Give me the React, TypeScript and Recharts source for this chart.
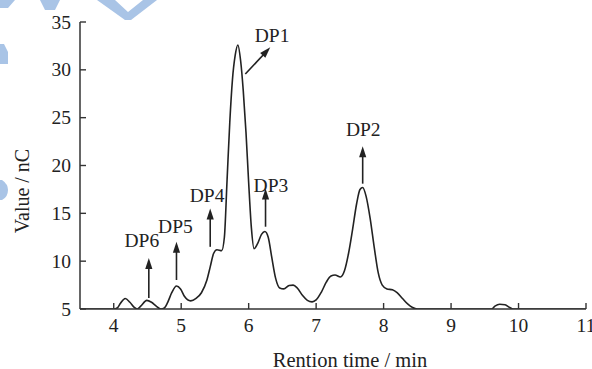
import React from 'react';
import { LineChart, Line, XAxis, YAxis, ReferenceLine, ReferenceDot } from 'recharts';

const times = [
  3.5, 4.0, 4.05, 4.1, 4.17, 4.24, 4.3, 4.35, 4.4, 4.49, 4.56, 4.63, 4.7, 4.75, 4.8, 4.86, 4.93, 4.99,
  5.05, 5.14, 5.22, 5.3, 5.38, 5.43, 5.48, 5.53, 5.6, 5.64, 5.68, 5.72, 5.76, 5.8, 5.84, 5.88, 5.92,
  5.96, 6.0, 6.04, 6.08, 6.13, 6.19, 6.24, 6.29, 6.34, 6.4, 6.46, 6.52, 6.6, 6.66, 6.72, 6.8, 6.87,
  6.94, 7.0, 7.08, 7.15, 7.22, 7.28, 7.36, 7.42, 7.48, 7.54, 7.6, 7.65, 7.69, 7.74, 7.8, 7.86, 7.92,
  7.98, 8.05, 8.13, 8.2, 8.28, 8.36, 8.43, 8.5, 9.6, 9.65, 9.72, 9.8, 9.87, 9.92, 11.0,
];
const values = [
  5, 5, 5.1, 5.6, 6.1, 5.7, 5.2, 5.0, 5.3, 5.9, 5.7, 5.3, 5.0, 5.1, 5.7, 6.7, 7.4, 7.1,
  6.3, 5.85, 6.1, 6.7, 8.0, 9.4, 10.8, 11.2, 11.1, 12.5, 18.5, 24.5, 29.0, 31.5, 32.6, 31.0, 27.8,
  23.5, 18.2, 13.5, 11.3, 11.8, 12.8, 13.1, 12.5, 10.5, 8.2, 7.2, 7.1, 7.45, 7.5, 7.2, 6.4, 5.9,
  5.75, 5.95, 6.8, 7.8, 8.45, 8.55, 8.35, 9.0, 10.8, 13.3, 16.0, 17.5, 17.7, 16.8, 14.5, 11.5, 8.8,
  7.5, 7.1, 7.0, 6.7, 6.1, 5.5, 5.15, 5.0, 5.0, 5.3, 5.5, 5.45, 5.15, 5.0, 5.0,
];
const xTicks = [4, 5, 6, 7, 8, 9, 10, 11];
const yTicks = [5, 10, 15, 20, 25, 30, 35];

// annotations: label text, label position, arrow start, arrow tip
const peakLabels = ['DP6', 'DP5', 'DP4', 'DP1', 'DP3', 'DP2'];
const labelX = [4.417, 4.914, 5.384, 6.347, 6.33, 7.698];
const labelY = [12.21, 13.68, 16.92, 33.64, 17.96, 23.82];
const arrowFromX = [4.52, 4.93, 5.43, 5.95, 6.25, 7.69];
const arrowFromY = [6.15, 8.03, 11.5, 29.56, 13.6, 18.1];
const arrowToX = [4.52, 4.93, 5.43, 6.32, 6.25, 7.69];
const arrowToY = [10.33, 12.03, 15.5, 32.35, 17.6, 22.0];

const data = times.map((t, i) => ({ t, v: values[i] }));

const FONT = '"Liberation Serif", "Times New Roman", serif';
const INK = '#222';

const XTick = (props: any) => {
  const { x, y, payload } = props;
  return (
    <g>
      <line x1={x} y1={y} x2={x} y2={y - 6} stroke="#333" strokeWidth={1.4} />
      <text x={x} y={y + 23} textAnchor="middle" fontFamily={FONT} fontSize={19.5} fill={INK}>
        {payload.value}
      </text>
    </g>
  );
};

const YTick = (props: any) => {
  const { x, y, payload } = props;
  return (
    <g>
      <line x1={x} y1={y} x2={x + 6} y2={y} stroke="#333" strokeWidth={1.4} />
      <text x={x - 9} y={y + 6.5} textAnchor="end" fontFamily={FONT} fontSize={19.5} fill={INK}>
        {payload.value}
      </text>
    </g>
  );
};

const Arrow = (props: any) => {
  const { x1, y1, x2, y2 } = props;
  if ([x1, y1, x2, y2].some((v) => typeof v !== 'number' || isNaN(v))) return <g />;
  const dx = x2 - x1;
  const dy = y2 - y1;
  const len = Math.sqrt(dx * dx + dy * dy) || 1;
  const ux = dx / len;
  const uy = dy / len;
  const px = -uy;
  const py = ux;
  const headL = 11;
  const headW = 3.6;
  const bx = x2 - ux * headL;
  const by = y2 - uy * headL;
  return (
    <g>
      <line x1={x1} y1={y1} x2={x2 - ux * 8} y2={y2 - uy * 8} stroke={INK} strokeWidth={1.6} />
      <polygon
        points={`${x2},${y2} ${bx + px * headW},${by + py * headW} ${bx - px * headW},${by - py * headW}`}
        fill={INK}
      />
    </g>
  );
};

const makeLabel = (text: string) => (props: any) => {
  const { cx, cy } = props;
  return (
    <text x={cx} y={cy + 6.8} textAnchor="middle" fontFamily={FONT} fontSize={19.5} fill={INK}>
      {text}
    </text>
  );
};

const Watermark = () => (
  <svg width={592} height={369} style={{ position: 'absolute', left: 0, top: 0 }}>
    <g fill="#a9c4e6">
      <polygon points="0,0 15,0 8,8 0,8" />
      <polygon points="40,0 60,0 55,10 45,10" />
      <polygon points="97,0 115,0 128,12 143,0 157,0 131,20 125,20" />
      <polygon points="0,44 4,44 8,52 8,64 0,64" />
      <path d="M0,180 L2,180 Q8,184 8,190 Q8,197 2,200 L0,200 Z" />
    </g>
  </svg>
);

export default function App() {
  return (
    <div style={{ position: 'absolute', left: 0, top: 0, width: 592, height: 369, background: '#fff' }}>
      <Watermark />
      <div style={{ position: 'absolute', left: 0, top: 0 }}>
        <LineChart width={592} height={369} data={data} margin={{ top: 22, right: 6, left: 0, bottom: 0 }}>
          <XAxis
            dataKey="t"
            type="number"
            domain={[3.5, 11]}
            ticks={xTicks}
            allowDataOverflow
            height={60}
            tickSize={0}
            tickMargin={0}
            tickLine={false}
            axisLine={{ stroke: '#333', strokeWidth: 1.5 }}
            tick={<XTick />}
            interval={0}
            label={{
              content: (p: any) => {
                const vb = p.viewBox || {};
                return (
                  <text
                    x={(vb.x ?? 80) + (vb.width ?? 506) / 2 + 17}
                    y={(vb.y ?? 309) + 57.5}
                    textAnchor="middle"
                    fontFamily={FONT}
                    fontSize={20.5}
                    fill={INK}
                  >
                    Rention time / min
                  </text>
                );
              },
            }}
          />
          <YAxis
            type="number"
            domain={[5, 35]}
            ticks={yTicks}
            allowDataOverflow
            width={80}
            tickSize={0}
            tickMargin={0}
            tickLine={false}
            axisLine={{ stroke: '#333', strokeWidth: 1.5 }}
            tick={<YTick />}
            interval={0}
            label={{
              content: (p: any) => {
                const vb = p.viewBox || {};
                const cx = (vb.x ?? 0) + 22.5;
                const cy = (vb.y ?? 22) + (vb.height ?? 287) / 2 + 25.5;
                return (
                  <text
                    x={cx}
                    y={cy}
                    dy="0.33em"
                    transform={`rotate(-90, ${cx}, ${cy})`}
                    textAnchor="middle"
                    fontFamily={FONT}
                    fontSize={20}
                    fill={INK}
                  >
                    Value / nC
                  </text>
                );
              },
            }}
          />
          <Line
            type="monotone"
            dataKey="v"
            stroke={INK}
            strokeWidth={1.6}
            dot={false}
            activeDot={false}
            isAnimationActive={false}
          />
          {peakLabels.map((name, i) => (
            <ReferenceLine
              key={`a-${name}`}
              segment={[
                { x: arrowFromX[i], y: arrowFromY[i] },
                { x: arrowToX[i], y: arrowToY[i] },
              ]}
              ifOverflow="visible"
              shape={Arrow}
            />
          ))}
          {peakLabels.map((name, i) => (
            <ReferenceDot
              key={`l-${name}`}
              x={labelX[i]}
              y={labelY[i]}
              r={0}
              ifOverflow="visible"
              shape={makeLabel(name)}
            />
          ))}
        </LineChart>
      </div>
    </div>
  );
}
